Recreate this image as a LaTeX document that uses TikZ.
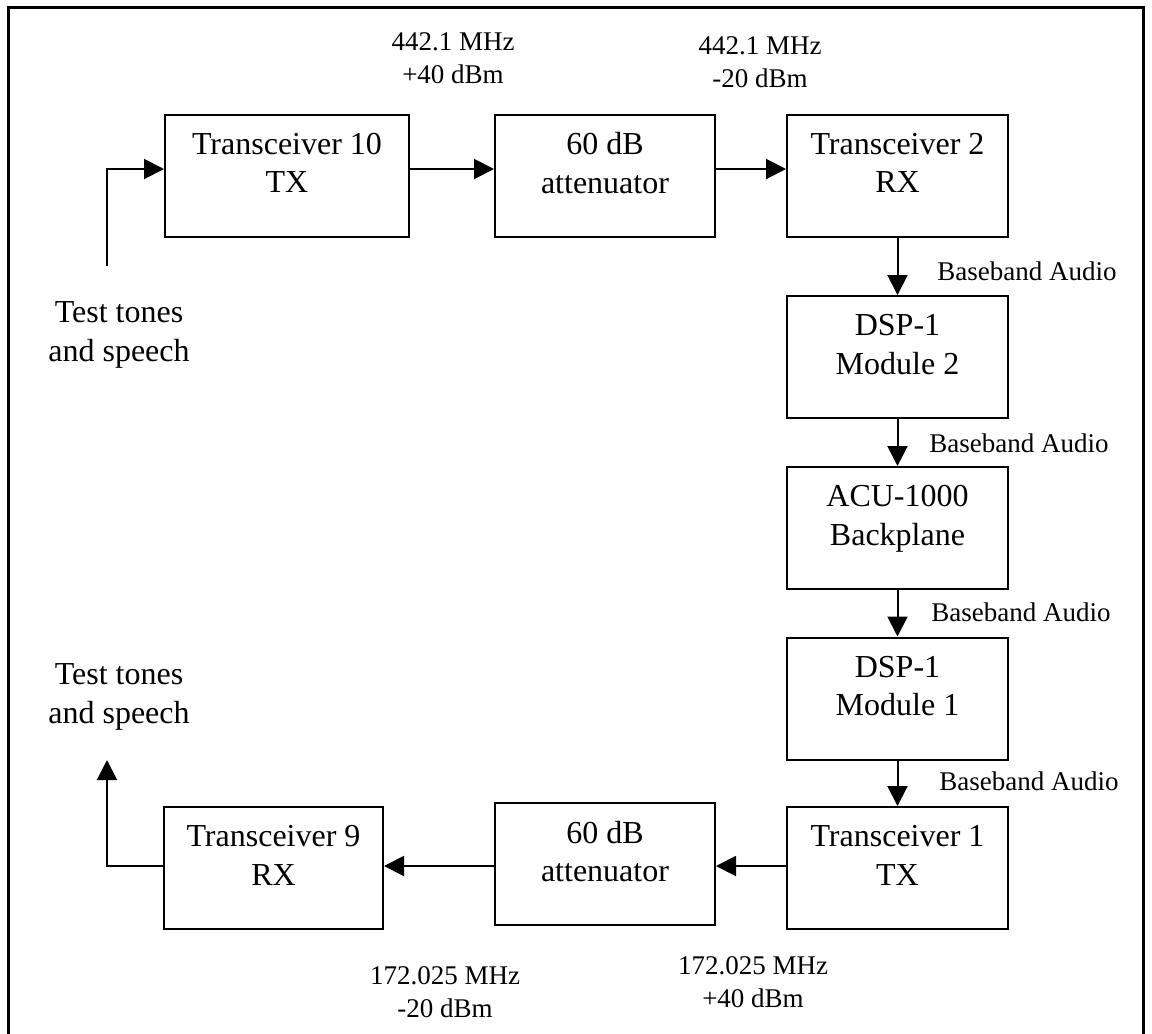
\documentclass[tikz,border=0pt]{standalone}
\usepackage{fontspec}
\setmainfont{Liberation Serif}
\usetikzlibrary{arrows.meta}
\newcommand{\unitpad}{\rule[-12.8pt]{0pt}{0pt}}
\newcommand{\Unit}[5]{
	\node[unit,minimum width=#4pt] (#1) at (#2,#3) {#5};
}

\begin{document}
\begin{tikzpicture}[x=0.5pt,y=-0.5pt,
	unit/.style={draw,line width=1pt,minimum height=61pt,align=center,
		font=\fontsize{16}{19.2}\selectfont,execute at end node=\unitpad},
	sig/.style={line width=1pt,-{Triangle[length=10pt,width=10pt]}},
	rf/.style={align=center,font=\fontsize{13.5}{16.2}\selectfont},
	src/.style={align=center,font=\fontsize{16}{19.2}\selectfont}]

	\useasboundingbox (0,0) rectangle (1152,1034);
	%frame
	\draw[line width=1.5pt] (8,1034) -- (8,7) -- (1143,7) -- (1143,1034);

	%top row
	\Unit{tx10}{287}{175.5}{122}{Transceiver 10\\TX}
	\Unit{att1}{605}{175.5}{110}{60 dB\\attenuator}
	\Unit{tx2}{897.5}{175.5}{110.5}{Transceiver 2\\RX}
	%column
	\Unit{dsp2}{897.5}{357}{110.5}{DSP-1\\Module 2}
	\Unit{acu}{897.5}{528}{110.5}{ACU-1000\\Backplane}
	\Unit{dsp1}{897.5}{698.5}{110.5}{DSP-1\\Module 1}
	%bottom row
	\Unit{tx1}{897.5}{868}{110.5}{Transceiver 1\\TX}
	\Unit{att2}{605}{864}{110}{60 dB\\attenuator}
	\Unit{tx9}{273.5}{868}{109.5}{Transceiver 9\\RX}

	%rf levels
	\coordinate (toprf) at (0,169);
	\coordinate (botrf) at (0,866);
	\node[rf] (lvl1) at (453,58) {442.1 MHz\\+40 dBm};
	\node[rf] (lvl2) at (760,62) {442.1 MHz\\-20 dBm};
	\node[rf] (lvl3) at (445,992) {172.025 MHz\\-20 dBm};
	\node[rf] (lvl4) at (753,982) {172.025 MHz\\+40 dBm};

	%in and out
	\node[src] (tin) at (119,335) {Test tones\\and speech};
	\node[src] (tout) at (119,697) {Test tones\\and speech};
	\coordinate (in) at (107,266);
	\coordinate (out) at (107,760);

	%connectors
	\draw[sig] (in) |- (tx10.west |- toprf);
	\draw[sig] (tx10.east |- toprf) -- (att1.west |- toprf);
	\draw[sig] (att1.east |- toprf) -- (tx2.west |- toprf);
	\foreach \a/\b/\lx/\ly in {tx2/dsp2/1027/271,dsp2/acu/1019/443,acu/dsp1/1021/612,dsp1/tx1/1029/781}{
		\draw[sig] (\a.south) -- (\b.north);
		\node[rf] (bb-\a) at (\lx,\ly) {Baseband Audio};
	}
	\draw[sig] (tx1.west |- botrf) -- (att2.east |- botrf);
	\draw[sig] (att2.west |- botrf) -- (tx9.east |- botrf);
	\draw[sig] (tx9.west |- botrf) -| (out);

\end{tikzpicture}
\end{document}
